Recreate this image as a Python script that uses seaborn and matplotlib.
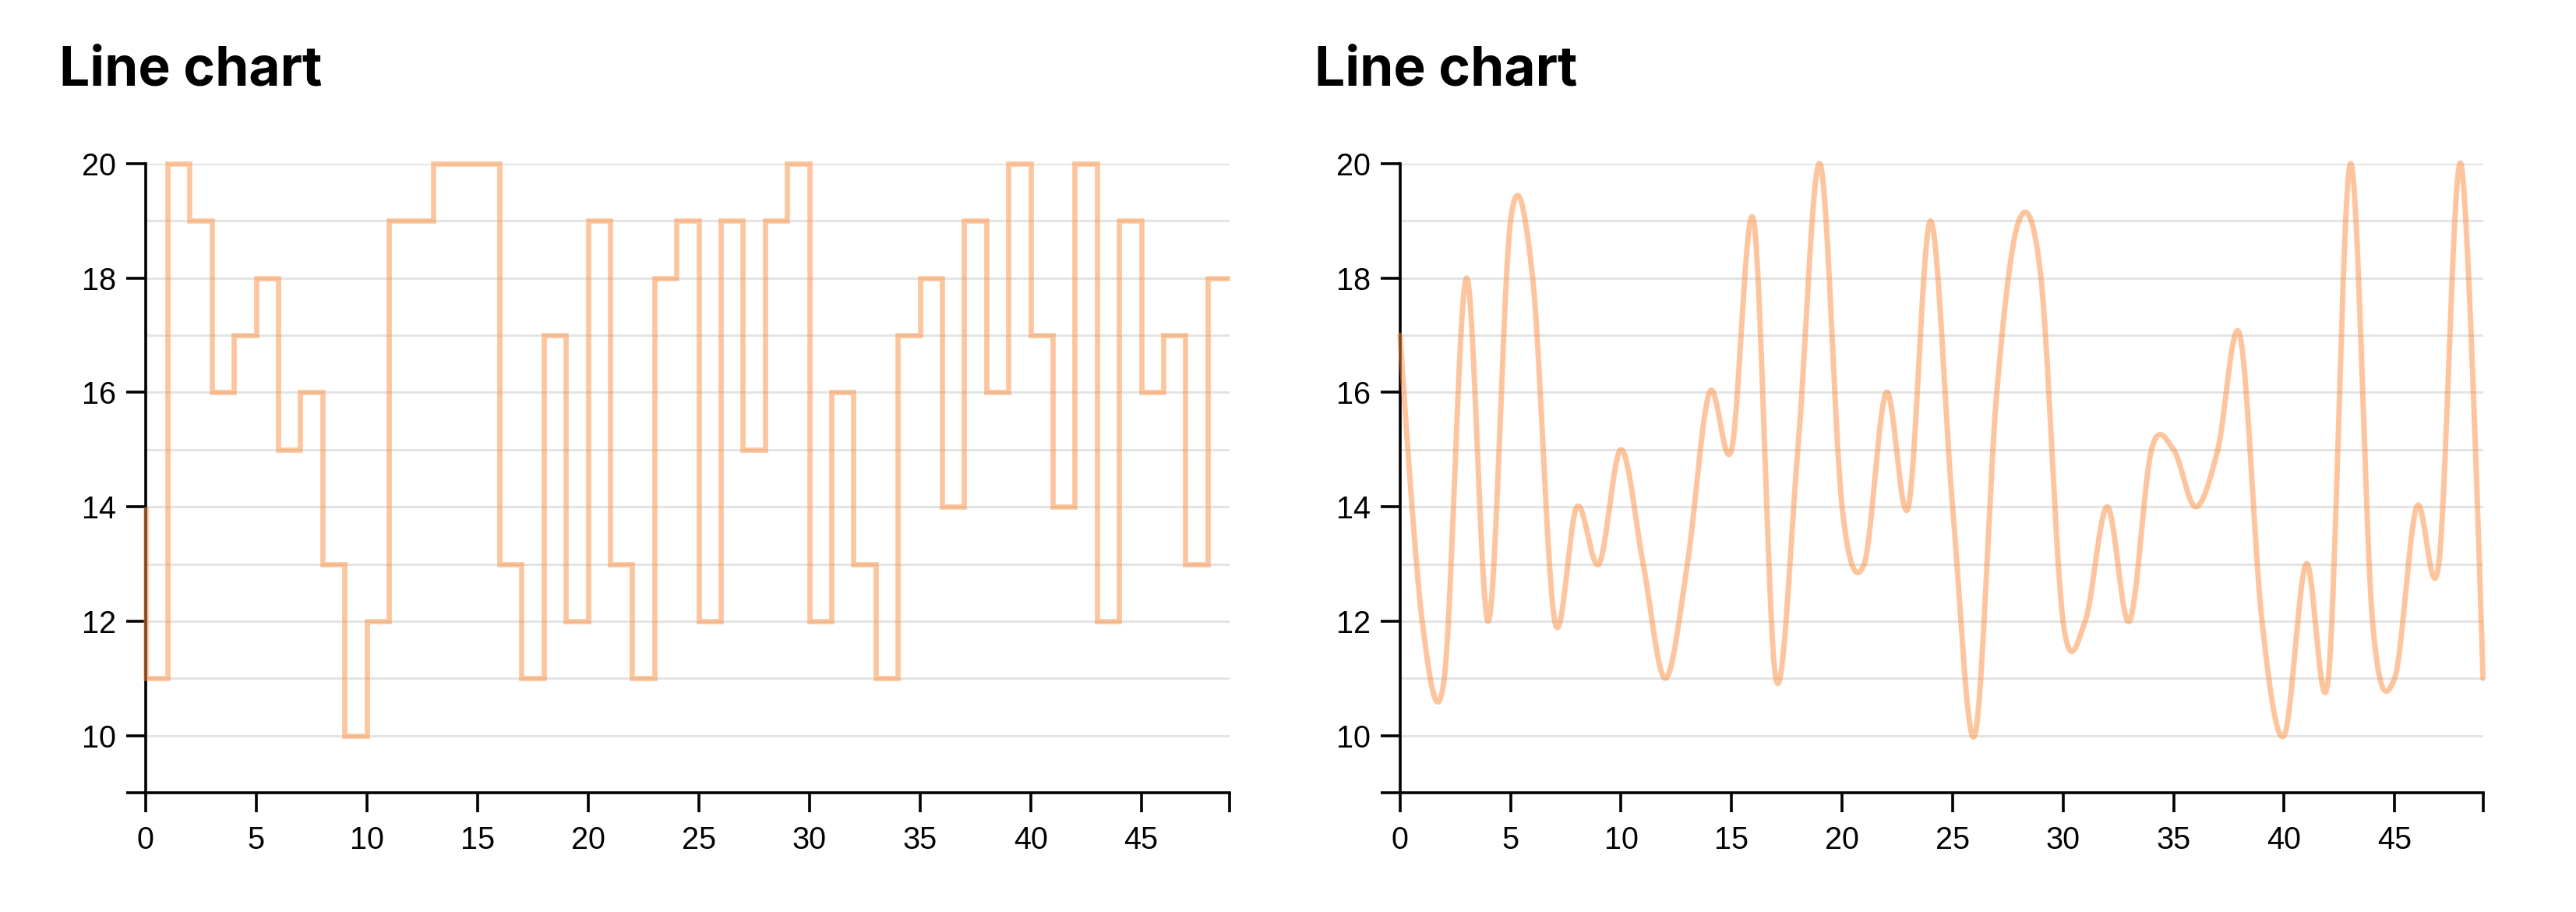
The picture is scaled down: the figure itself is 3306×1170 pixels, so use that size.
import numpy as np
import pandas as pd
import matplotlib
matplotlib.use("Agg")
import matplotlib.pyplot as plt
import seaborn as sns

# values
x_vals = list(range(50))
step_vals = [14, 11, 20, 19, 16, 17, 18, 15, 16, 13,
             10, 12, 19, 19, 20, 20, 20, 13, 11, 17,
             12, 19, 13, 11, 18, 19, 12, 19, 15, 19,
             20, 12, 16, 13, 11, 17, 18, 14, 19, 16,
             20, 17, 14, 20, 12, 19, 16, 17, 13, 18]
curve_vals = [17, 12, 11, 18, 12, 19, 18, 12, 14, 13,
              15, 13, 11, 13, 16, 15, 19, 11, 15, 20,
              14, 13, 16, 14, 19, 14, 10, 16, 19, 18,
              12, 12, 14, 12, 15, 15, 14, 15, 17, 12,
              10, 13, 11, 20, 12, 11, 14, 13, 20, 11]
titles = ["Line chart", "Line chart"]
y_ticks = [10, 12, 14, 16, 18, 20]
x_ticks = [0, 5, 10, 15, 20, 25, 30, 35, 40, 45]
grid_levels = list(range(10, 21))

LINE = "#fd8d3c"
GRID = "#e4e4e4"


def cardinal(xs, ys, n=40):
    # cardinal spline (tension 0), same end handling as d3.curveCardinal
    p = np.column_stack([xs, ys]).astype(float)
    k = 1.0 / 6.0
    out = [p[0]]
    t = np.linspace(0, 1, n)[1:, None]
    for i in range(len(p) - 1):
        p1, p2 = p[i], p[i + 1]
        c1 = p1 if i == 0 else p1 + k * (p2 - p[i - 1])
        c2 = p2 if i == len(p) - 2 else p2 - k * (p[i + 2] - p1)
        seg = ((1 - t) ** 3) * p1 + 3 * ((1 - t) ** 2) * t * c1 + 3 * (1 - t) * t ** 2 * c2 + t ** 3 * p2
        out.extend(seg)
    out = np.array(out)
    return out[:, 0], out[:, 1]


sns.set_theme(style="ticks")
plt.rcParams["font.family"] = ["Liberation Sans", "DejaVu Sans"]

fig = plt.figure(figsize=(33.06, 11.7), dpi=100)
ax1 = fig.add_axes([0.05647, 0.1308, 0.4209, 0.6897])
ax2 = fig.add_axes([0.5435, 0.1308, 0.4204, 0.6897])

df_step = pd.DataFrame({"x": x_vals, "y": step_vals})
sns.lineplot(data=df_step, x="x", y="y", ax=ax1, color=LINE, alpha=0.5,
             linewidth=4.8, drawstyle="steps-pre", estimator=None,
             solid_joinstyle="miter", solid_capstyle="butt", clip_on=False, zorder=3)

sx, sy = cardinal(x_vals, curve_vals)
df_curve = pd.DataFrame({"x": sx, "y": sy})
sns.lineplot(data=df_curve, x="x", y="y", ax=ax2, color=LINE, alpha=0.5,
             linewidth=5.0, sort=False, estimator=None,
             solid_capstyle="round", clip_on=False, zorder=3)

for ax, title in zip([ax1, ax2], titles):
    for g in grid_levels:
        ax.axhline(g, color=GRID, linewidth=2.2, zorder=1)
    ax.set_xlim(0, 49)
    ax.set_ylim(9, 20)
    ax.set_xticks(x_ticks)
    ax.set_xticks([49], minor=True)
    ax.set_yticks(y_ticks)
    ax.set_yticks([9], minor=True)
    ax.tick_params(which="both", length=18, width=2.6, color="black",
                   labelsize=28.5, labelcolor="black")
    ax.tick_params(axis="x", pad=12)
    ax.tick_params(axis="y", pad=9)
    ax.set_xlabel("")
    ax.set_ylabel("")
    for side in ["top", "right"]:
        ax.spines[side].set_visible(False)
    for side in ["left", "bottom"]:
        ax.spines[side].set_linewidth(2.6)
        ax.spines[side].set_color("black")
    ax.set_facecolor("white")

fig.text(0.023, 0.906, titles[0], fontsize=50, fontweight="bold", color="black",
         family=["Inter", "DejaVu Sans"], va="baseline", ha="left")
fig.text(0.5103, 0.906, titles[1], fontsize=50, fontweight="bold", color="black",
         family=["Inter", "DejaVu Sans"], va="baseline", ha="left")

fig.savefig("out.png", dpi=100, facecolor="white")
